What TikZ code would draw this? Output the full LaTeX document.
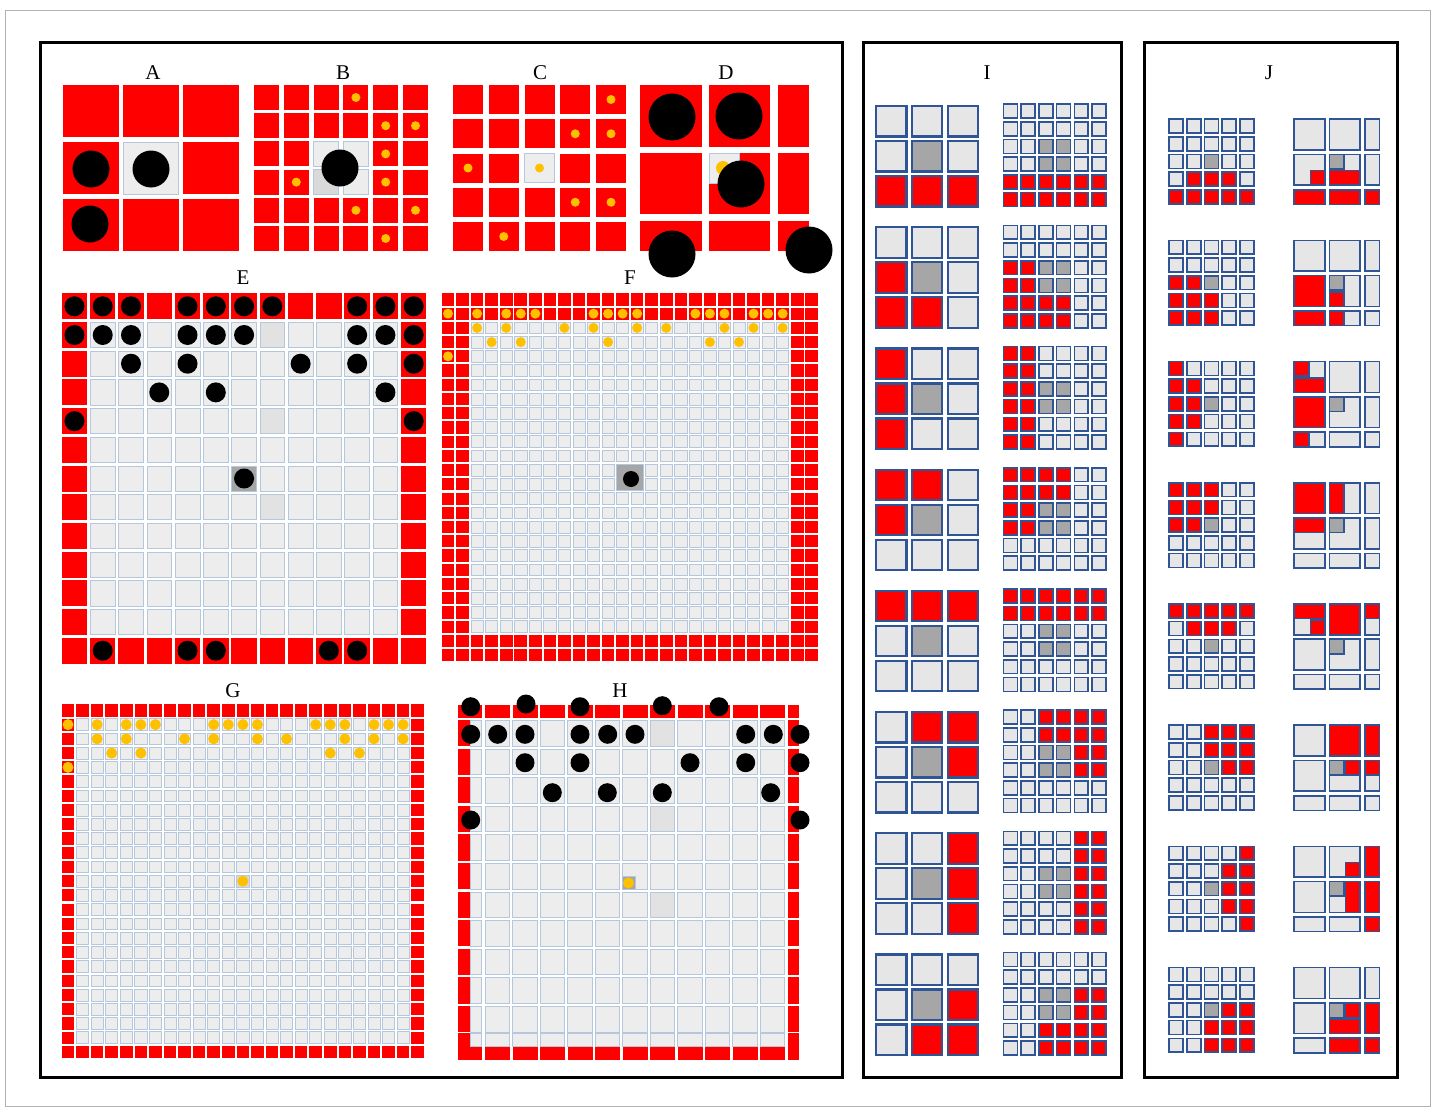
\documentclass[tikz,border=0pt]{standalone}
\usepackage{fontspec}
\setmainfont{Liberation Serif}
\definecolor{myred}{HTML}{FF0000}
\definecolor{lgray}{HTML}{EDEDED}
\definecolor{fgray}{HTML}{E2E2E2}
\definecolor{dgray}{HTML}{D9D9D9}
\definecolor{gline}{HTML}{B4C7DC}
\definecolor{cgray}{HTML}{A6A6A6}
\definecolor{myyellow}{HTML}{FFC000}
\definecolor{jblue}{HTML}{2F5597}
\definecolor{jlight}{HTML}{E7E6E6}
\newcommand\jrect[5]{%
 \pgfmathsetmacro\jxa{1293.3+35.3*floor(#1/2)+16.2*mod(#1,2)+0.8}%
 \pgfmathsetmacro\jya{\jtop+35.3*floor(#2/2)+16.2*mod(#2,2)+0.8}%
 \pgfmathsetmacro\jxb{1293.3+35.3*floor(#3/2)+16.2*(mod(#3,2)+1)-0.8}%
 \pgfmathsetmacro\jyb{\jtop+35.3*floor(#4/2)+16.2*(mod(#4,2)+1)-0.8}%
 \filldraw[scell,fill=#5] (\jxa,\jya) rectangle (\jxb,\jyb);}
\newcommand\Iblock[2]{%
 \pgfmathsetmacro\itop{105+#1*121.2}%
 \pgfmathsetmacro\itopb{103.3+#1*121.2}%
 \foreach \a in {0,1,2}{\foreach \b in {0,1,2}{\filldraw[icell] ({876.1+\a*35.8},{\itop+1.1+\b*35}) rectangle ++(30.3,30.3);}}%
 \foreach \a/\b in {#2}{\filldraw[icell,fill=myred] ({876.1+\a*35.8},{\itop+1.1+\b*35}) rectangle ++(30.3,30.3);}%
 \filldraw[icell,fill=cgray] ({876.1+35.8},{\itop+1.1+35}) rectangle ++(30.3,30.3);
 \foreach \c in {0,...,5}{\foreach \r in {0,...,5}{\filldraw[scell] ({1003.5+\c*17.7},{\itopb+0.8+\r*17.7}) rectangle ++(13.9,13.9);}}%
 \foreach \a/\b in {#2}{\foreach \ii in {0,1}{\foreach \jj in {0,1}{\filldraw[scell,fill=myred] ({1003.5+(2*\a+\ii)*17.7},{\itopb+0.8+(2*\b+\jj)*17.7}) rectangle ++(13.9,13.9);}}}%
 \foreach \c/\r in {2/2,3/2,2/3,3/3}{\filldraw[scell,fill=cgray] ({1003.5+\c*17.7},{\itopb+0.8+\r*17.7}) rectangle ++(13.9,13.9);}%
}
\newcommand\Jblock[3]{%
 \pgfmathsetmacro\jtop{118.3+#1*121.2}%
 \foreach \c in {0,...,4}{\foreach \r in {0,...,4}{\filldraw[scell] ({1169.1+\c*17.7},{\jtop+0.8+\r*17.7}) rectangle ++(13.9,13.9);}}%
 \foreach \c/\r in {#2}{\filldraw[scell,fill=myred] ({1169.1+\c*17.7},{\jtop+0.8+\r*17.7}) rectangle ++(13.9,13.9);}%
 \filldraw[scell,fill=cgray] ({1169.1+2*17.7},{\jtop+0.8+2*17.7}) rectangle ++(13.9,13.9);
 \foreach \ca/\cb in {0/1,2/3,4/4}{\foreach \ra/\rb in {0/1,2/3,4/4}{\jrect{\ca}{\ra}{\cb}{\rb}{jlight}}}%
 \foreach \ca/\ra/\cb/\rb in {#3}{\jrect{\ca}{\ra}{\cb}{\rb}{myred}}%
 \jrect{2}{2}{2}{2}{cgray}%
}
\begin{document}
\begin{tikzpicture}[x=1pt,y=-1pt,
  lab/.style={font=\fontsize{21}{24}\selectfont, anchor=base, inner sep=0pt},
  lcell/.style={fill=lgray, draw=gline, line width=0.7pt},
  icell/.style={draw=jblue, line width=2.2pt, fill=jlight},
  scell/.style={draw=jblue, line width=1.6pt, fill=jlight},
  panelframe/.style={draw=black, line width=3pt}]
\fill[white] (0,0) rectangle (1435,1108);
\useasboundingbox (0,0) rectangle (1435,1108);
\draw[gray!60, line width=0.8pt] (5,10) rectangle (1430,1106);
\draw[panelframe] (40,43) rectangle (842,1077);
\draw[panelframe] (863,43) rectangle (1121,1077);
\draw[panelframe] (1144,43) rectangle (1397,1077);
% labels
\node[lab] (labA) at (153,79) {A};
\node[lab] (labB) at (343,79) {B};
\node[lab] (labC) at (540,79) {C};
\node[lab] (labD) at (726,79) {D};
\node[lab] (labE) at (243,284) {E};
\node[lab] (labF) at (630,284) {F};
\node[lab] (labG) at (233,697) {G};
\node[lab] (labH) at (620,697) {H};
\node[lab] (labI) at (987,80) {I};
\node[lab] (labJ) at (1269,80) {J};
% ---------- A
\foreach \c in {0,1,2}{\foreach \r in {0,1,2}{\fill[myred] ({63+\c*60},{85+\r*57}) rectangle ++(55.5,52);}}
\filldraw[lcell] (123,142) rectangle ++(55.5,52);
\foreach \x/\y in {91/169,151/169,90/224} \fill[black] (\x,\y) circle[radius=18.5pt];
% ---------- B
\foreach \c in {0,...,5}{\foreach \r in {0,...,5}{\fill[myred] ({254+\c*29.8},{85+\r*28.2}) rectangle ++(25,25);}}
\foreach \c/\r in {2/2,3/2,3/3} \filldraw[lcell] ({254+\c*29.8},{85+\r*28.2}) rectangle ++(25,25);
\filldraw[lcell,fill=dgray] ({254+2*29.8},{85+3*28.2}) rectangle ++(25,25);
\foreach \c/\r in {3/0,4/1,5/1,4/2,1/3,4/3,3/4,5/4,4/5} \fill[myyellow] ({254+\c*29.8+12.5},{85+\r*28.2+12.5}) circle[radius=4.5pt];
\fill[black] (340,168) circle[radius=18.5pt];
% ---------- C
\foreach \c in {0,...,4}{\foreach \r in {0,...,4}{\fill[myred] ({453+\c*35.75},{85+\r*34.25}) rectangle ++(30,29);}}
\filldraw[lcell] ({453+2*35.75},{85+2*34.25}) rectangle ++(30,29);
\foreach \c/\r in {4/0,3/1,4/1,0/2,2/2,3/3,4/3,1/4} \fill[myyellow] ({453+\c*35.75+15},{85+\r*34.25+14.5}) circle[radius=4.5pt];
% ---------- D
\foreach \xa/\xb in {640/702,709/770,778/809}{\foreach \ya/\yb in {85/147,153/214,221/251}{\fill[myred] (\xa,\ya) rectangle (\xb,\yb);}}
\filldraw[lcell] (709,153) rectangle (739,183);
\fill[myyellow] (723,168) circle[radius=7pt];
\foreach \x/\y in {672/117,739/116,741/184,672/254,809/250} \fill[black] (\x,\y) circle[radius=23.5pt];
% ---------- E
\foreach \c in {0,...,12}{\foreach \r in {0,...,12}{%
  \pgfmathtruncatemacro\isb{or(or(\c==0,\c==12),or(\r==0,\r==12))}%
  \ifnum\isb=1 \fill[myred] ({61.7+\c*28.27},{293.3+\r*28.7}) rectangle ++(25.5,26);%
  \else \filldraw[lcell] ({62.1+\c*28.27},{293.7+\r*28.7}) rectangle ++(24.7,25.2);\fi}}
\foreach \r in {1,4,7} \filldraw[lcell,fill=fgray] ({62.1+7*28.27},{293.7+\r*28.7}) rectangle ++(24.7,25.2);
\filldraw[lcell,fill=cgray] ({62.1+6*28.27},{293.7+6*28.7}) rectangle ++(24.7,25.2);
\foreach \c/\r in {0/0,1/0,2/0,4/0,5/0,6/0,7/0,10/0,11/0,12/0,
                   0/1,1/1,2/1,4/1,5/1,6/1,10/1,11/1,12/1,
                   2/2,4/2,8/2,10/2,12/2, 3/3,5/3,11/3, 0/4,12/4, 6/6,
                   1/12,4/12,5/12,9/12,10/12}
  \fill[black] ({61.7+\c*28.27+12.75},{293.3+\r*28.7+13}) circle[radius=10pt];
% ---------- F
\foreach \c in {0,...,25}{\foreach \r in {0,...,25}{%
  \pgfmathtruncatemacro\isb{or(or(\c<2,\c>23),or(\r<2,\r>23))}%
  \ifnum\isb=1 \fill[myred] ({441.7+\c*14.55},{293.3+\r*14.23}) rectangle ++(12.6,12.2);%
  \else \filldraw[lcell] ({441.9+\c*14.55},{293.5+\r*14.23}) rectangle ++(12.2,11.8);\fi}}
\filldraw[lcell,fill=cgray] ({441.7+12*14.55},{293.3+12*14.23}) rectangle ({441.7+13*14.55+12.6},{293.3+13*14.23+12.2});
\fill[black] (631,479) circle[radius=8pt];
\foreach \c/\r in {0/1,2/1,4/1,5/1,6/1,10/1,11/1,12/1,13/1,17/1,18/1,19/1,21/1,22/1,23/1,
                   2/2,4/2,8/2,10/2,13/2,15/2,19/2,21/2,23/2,
                   3/3,5/3,11/3,18/3,20/3, 0/4}
  \fill[myyellow] ({441.7+\c*14.55+6.3},{293.3+\r*14.23+6.1}) circle[radius=5pt];
% ---------- G
\foreach \c in {0,...,24}{\foreach \r in {0,...,24}{%
  \pgfmathtruncatemacro\isb{or(or(\c==0,\c==24),or(\r==0,\r==24))}%
  \ifnum\isb=1 \fill[myred] ({61.7+\c*14.57},{704.3+\r*14.23}) rectangle ++(12.6,12.2);%
  \else \filldraw[lcell] ({61.9+\c*14.57},{704.5+\r*14.23}) rectangle ++(12.2,11.8);\fi}}
\filldraw[lcell,fill=dgray] ({61.9+12*14.57},{704.5+12*14.23}) rectangle ++(12.2,11.8);
\foreach \c/\r in {0/1,2/1,4/1,5/1,6/1,10/1,11/1,12/1,13/1,17/1,18/1,19/1,21/1,22/1,23/1,
                   2/2,4/2,8/2,10/2,13/2,15/2,19/2,21/2,23/2,
                   3/3,5/3,18/3,20/3, 0/4, 12/12}
  \fill[myyellow] ({61.7+\c*14.57+6.3},{704.3+\r*14.23+6.1}) circle[radius=5.5pt];
% ---------- H
\foreach \r in {1,...,11}{%
  \filldraw[lcell] (470.3,{720.3+(\r-1)*28.6}) rectangle ++(11.2,25.6);
  \foreach \c in {1,...,11}{\filldraw[lcell] ({485.3+(\c-1)*27.5},{720.3+(\r-1)*28.6}) rectangle ++(24.4,25.6);}
  \fill[myred] (458.3,{720+(\r-1)*28.6}) rectangle ++(11.7,26.2);
  \fill[myred] (788.3,{720+(\r-1)*28.6}) rectangle ++(11,26.2);}
\foreach \r in {1,4,7} \filldraw[lcell,fill=fgray] ({485.3+6*27.5},{720.3+(\r-1)*28.6}) rectangle ++(24.4,25.6);
\filldraw[lcell] (470.3,1033.6) rectangle (481.5,1046.4);
\foreach \c in {1,...,11} \filldraw[lcell] ({485.3+(\c-1)*27.5},1033.6) rectangle ++(24.4,12.8);
\fill[myred] (458.3,705) rectangle (481.7,717.7);
\foreach \c in {1,...,11} \fill[myred] ({485+(\c-1)*27.5},705) rectangle ++(25,12.7);
\fill[myred] (788.3,705) rectangle (799.3,717.7);
\fill[myred] (458.3,1033.3) rectangle (470,1060);
\fill[myred] (458.3,1046.7) rectangle (481.7,1060);
\foreach \c in {1,...,11} \fill[myred] ({485+(\c-1)*27.5},1046.7) rectangle ++(25,13.3);
\fill[myred] (788.3,1033.3) rectangle (799.3,1060);
\filldraw[lcell,fill=cgray] (622.7,876.7) rectangle (635,889.3);
\fill[myyellow] (628.5,883) circle[radius=5.5pt];
\foreach \x/\y in {470.7/706.7,526/704,580/706.7,662.3/705.7,719/706.7,
                   470.7/734.3,497.7/734.3,525/734.3,580/734.3,607.7/734.3,635/734.3,745.7/734.3,773.3/734.3,800/734.3,
                   525/762.7,580/762.7,690/762.7,745.7/762.7,800/762.7,
                   552.3/792.7,607.3/792.7,662.3/792.7,770.7/792.7,
                   470.7/820,800/820}
  \fill[black] (\x,\y) circle[radius=9.5pt];
% ---------- I
\Iblock{0}{0/2,1/2,2/2}
\Iblock{1}{0/1,0/2,1/2}
\Iblock{2}{0/0,0/1,0/2}
\Iblock{3}{0/0,1/0,0/1}
\Iblock{4}{0/0,1/0,2/0}
\Iblock{5}{1/0,2/0,2/1}
\Iblock{6}{2/0,2/1,2/2}
\Iblock{7}{2/1,1/2,2/2}
% ---------- J
\Jblock{0}{0/4,1/4,2/4,3/4,4/4,1/3,2/3,3/3}{0/4/1/4,2/4/3/4,4/4/4/4,1/3/1/3,2/3/3/3}
\Jblock{1}{0/2,1/2,0/3,1/3,2/3,0/4,1/4,2/4}{0/2/1/3,2/3/2/3,0/4/1/4,2/4/2/4}
\Jblock{2}{0/0,0/1,1/1,0/2,1/2,0/3,1/3,0/4}{0/0/0/0,0/1/1/1,0/2/1/3,0/4/0/4}
\Jblock{3}{0/0,1/0,2/0,0/1,1/1,2/1,0/2,1/2}{0/0/1/1,2/0/2/1,0/2/1/2}
\Jblock{4}{0/0,1/0,2/0,3/0,4/0,1/1,2/1,3/1}{0/0/1/0,1/1/1/1,2/0/3/1,4/0/4/0}
\Jblock{5}{2/0,3/0,4/0,2/1,3/1,4/1,3/2,4/2}{2/0/3/1,4/0/4/1,3/2/3/2,4/2/4/2}
\Jblock{6}{4/0,3/1,4/1,3/2,4/2,3/3,4/3,4/4}{3/1/3/1,4/0/4/1,3/2/3/3,4/2/4/3,4/4/4/4}
\Jblock{7}{3/2,4/2,2/3,3/3,4/3,2/4,3/4,4/4}{3/2/3/2,2/3/3/3,4/2/4/3,2/4/3/4,4/4/4/4}
\end{tikzpicture}
\end{document}
